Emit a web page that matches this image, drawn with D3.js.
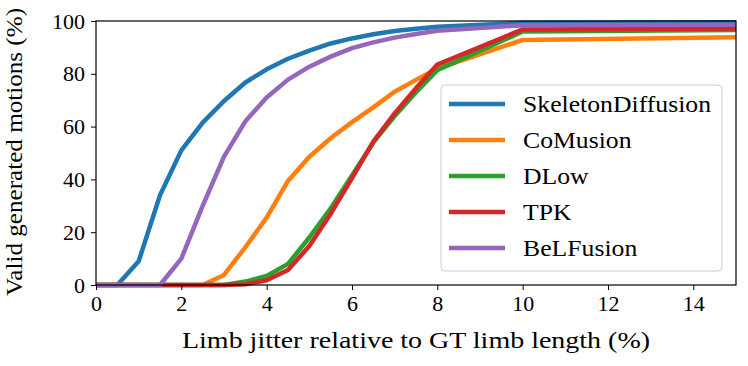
<!DOCTYPE html>
<html>
<head>
<meta charset="utf-8">
<script src="https://cdn.jsdelivr.net/npm/d3@7"></script>
<style>
  body { margin: 0; background: #fff; }
</style>
</head>
<body>
<div id="chart"></div>
<script>
// jitter levels (% of GT limb length)
var jitter = [0, 0.5, 1, 1.5, 2, 2.5, 3, 3.5, 4, 4.5, 5, 5.5, 6, 6.5, 7, 7.5, 8, 10, 15];

var skeletonDiffusion = [0, 0, 9, 34, 51, 61.5, 69.7, 76.7, 81.7, 85.7, 88.8, 91.5, 93.4, 95, 96.2, 97.1, 97.8, 99.3, 99.5];
var coMusion          = [0, 0, 0, 0, 0, 0, 3.8, 14.3, 25.5, 39.4, 48.6, 55.6, 61.7, 67.3, 73.2, 77.7, 82, 92.8, 93.8];
var dLow              = [0, 0, 0, 0, 0, 0, 0, 1.3, 3.4, 8, 18, 29, 41.5, 54, 64, 73, 81.4, 96, 96.6];
var tpk               = [0, 0, 0, 0, 0, 0, 0, 0.3, 1.8, 5.7, 14.8, 27, 40.5, 54.3, 65, 74.5, 83.5, 96.8, 97.2];
var belFusion         = [0, 0, 0, 0, 10, 30, 48.6, 62, 71, 77.8, 82.7, 86.5, 89.7, 91.9, 93.7, 95.1, 96.3, 98.4, 98.6];

var seriesNames = ["SkeletonDiffusion", "CoMusion", "DLow", "TPK", "BeLFusion"];
var seriesColors = ["#1f77b4", "#ff7f0e", "#2ca02c", "#d62728", "#9467bd"];
var xTicks = [0, 2, 4, 6, 8, 10, 12, 14];
var yTicks = [0, 20, 40, 60, 80, 100];

var FONT = "'Liberation Serif', 'Times New Roman', serif";

// stretch Times-like glyphs toward the wider Computer Modern look
function widen(sel, k) {
    sel.each(function () {
        var w = this.getComputedTextLength();
        d3.select(this).attr("textLength", w * k).attr("lengthAdjust", "spacingAndGlyphs");
    });
}

function drawGraph() {
    var W = 748, H = 366;
    var margin = { top: 21, right: 12, bottom: 81, left: 96 };
    var width = W - margin.left - margin.right;
    var height = H - margin.top - margin.bottom;

    var svg = d3.select("#chart").append("svg")
        .attr("width", W)
        .attr("height", H)
        .append("g")
        .attr("transform", "translate(" + margin.left + "," + margin.top + ")");

    var x = d3.scaleLinear().domain([0, 15]).range([0, width]);
    var y = d3.scaleLinear().domain([0, 100]).range([height, 0]);

    var allSeries = [skeletonDiffusion, coMusion, dLow, tpk, belFusion];
    var data = allSeries.map(function (vals, i) {
        return { name: seriesNames[i], color: seriesColors[i],
                 values: jitter.map(function (j, k) { return { x: j, y: vals[k] }; }) };
    });

    svg.append("clipPath").attr("id", "clip")
        .append("rect").attr("x", 0).attr("y", -3).attr("width", width).attr("height", height + 6);

    var line = d3.line().x(d => x(d.x)).y(d => y(d.y));

    svg.append("g").attr("clip-path", "url(#clip)")
        .selectAll("path")
        .data(data)
        .enter().append("path")
        .attr("fill", "none")
        .attr("stroke", d => d.color)
        .attr("stroke-width", 4.5)
        .attr("stroke-linejoin", "round")
        .attr("d", d => line(d.values));

    // axes
    var xAxis = svg.append("g")
        .attr("transform", "translate(0," + height + ")")
        .call(d3.axisBottom(x).tickValues(xTicks).tickSize(5).tickPadding(5).tickFormat(d3.format("d")));
    var yAxis = svg.append("g")
        .call(d3.axisLeft(y).tickValues(yTicks).tickSize(5).tickPadding(6).tickFormat(d3.format("d")));
    [xAxis, yAxis].forEach(function (g) {
        g.attr("font-family", null).attr("font-size", null);
        g.select(".domain").remove();
        g.selectAll(".tick line").attr("stroke", "#000").attr("stroke-width", 1);
        g.selectAll("text")
            .style("font-family", FONT)
            .style("font-size", "22px")
            .attr("fill", "#000");
    });

    // frame
    svg.append("rect")
        .attr("x", 0).attr("y", 0).attr("width", width).attr("height", height)
        .attr("fill", "none").attr("stroke", "#000").attr("stroke-width", 1.2);

    var xl = svg.append("text")
        .attr("x", width / 2)
        .attr("y", height + 63)
        .attr("text-anchor", "middle")
        .style("font-family", FONT)
        .style("font-size", "23px")
        .text("Limb jitter relative to GT limb length (%)");

    var yl = svg.append("text")
        .attr("transform", "rotate(-90)")
        .attr("x", -height / 2 + 1)
        .attr("y", -74)
        .attr("text-anchor", "middle")
        .style("font-family", FONT)
        .style("font-size", "23px")
        .text("Valid generated motions (%)");

    // legend
    var legend = svg.append("g").attr("transform", "translate(" + (441 - margin.left) + "," + (85 - margin.top) + ")");
    legend.append("rect")
        .attr("width", 281).attr("height", 186)
        .attr("rx", 4).attr("ry", 4)
        .attr("fill", "#fff").attr("fill-opacity", 0.8)
        .attr("stroke", "#cccccc").attr("stroke-width", 1);
    var items = legend.selectAll(".item")
        .data(data)
        .enter().append("g")
        .attr("transform", (d, i) => "translate(0," + (19 + i * 36) + ")");
    items.append("line")
        .attr("x1", 8).attr("x2", 64)
        .attr("stroke", d => d.color).attr("stroke-width", 4.5);
    var lt = items.append("text")
        .attr("x", 82).attr("y", 8)
        .style("font-family", FONT)
        .style("font-size", "23px")
        .text(d => d.name);

    // fit label widths to the reference
    widen(xl, 468 / xl.node().getComputedTextLength());
    widen(yl, 288 / yl.node().getComputedTextLength());
    widen(lt, 188 / lt.node().getComputedTextLength());
}

window.onload = drawGraph;
</script>
</body>
</html>
